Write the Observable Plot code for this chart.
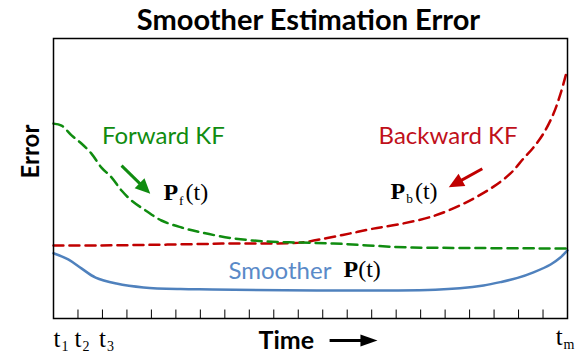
<!DOCTYPE html>
<html><head><meta charset="utf-8">
<script src="https://cdn.jsdelivr.net/npm/d3@7"></script>
<script src="https://cdn.jsdelivr.net/npm/@observablehq/plot@0.6"></script>
<style>body{margin:0;background:#fff} svg{display:block}</style>
</head><body><div id="chart"></div>
<script>
// ---- data (time in tick steps, error in arbitrary units 0..100) ----
const forwardT   = [0, 0.33, 0.74, 1.14, 1.55, 1.96, 2.37, 2.78, 3.19, 3.76, 4.41, 5.23, 6.05, 7.35, 8.74, 10.09, 11.44, 12.83, 14.46, 16.63, 21];
const forwardErr = [69.6, 68.9, 65.4, 62.5, 58.9, 53.9, 50.4, 45.7, 42.1, 38.6, 35.0, 32.5, 30.7, 28.6, 27.5, 27.1, 26.8, 26.1, 25.4, 25.2, 25.0];
const backwardT   = [0, 1.92, 3.96, 6.0, 7.35, 8.74, 10.09, 11.19, 12.13, 13.07, 14.18, 15.53, 16.63, 17.32, 17.98, 18.67, 19.2, 19.61, 20.02, 20.43, 20.72, 20.96];
const backwardErr = [26.1, 26.1, 26.3, 26.6, 26.8, 26.8, 27.1, 28.75, 30.4, 32.1, 33.75, 36.6, 40.5, 43.6, 47.1, 51.8, 57.1, 61.1, 66.1, 73.2, 80.4, 87.9];
const smootherT   = [0, 0.6, 1.14, 1.72, 2.57, 3.68, 5.19, 6.5, 10.75, 15.6, 16.6, 17.57, 18.26, 18.96, 19.61, 20.31, 20.71, 21];
const smootherErr = [23.3, 21.1, 17.9, 14.6, 12.5, 11.1, 10.5, 10.4, 10.0, 10.3, 10.8, 11.8, 13.0, 14.5, 16.5, 19.3, 21.8, 24.3];
const tickSteps = d3.range(1, 21);
const tickLabels = ["t|1|", "t|2|", "t|3|", "t|m|"];
const tickLabelSteps = [0, 1, 2, 21];

const toRows = (ts, es) => ts.map((t, i) => ({t, err: es[i]}));
const forward = toRows(forwardT, forwardErr);
const backward = toRows(backwardT, backwardErr);
const smoother = toRows(smootherT, smootherErr);
const labelRows = tickLabels.map((l, i) => ({t: tickLabelSteps[i], label: l}));

const GREEN = "#108c10", RED = "#c00000", BLUE = "#4f81bd";
const SANS = "Lato", SERIF = "Liberation Serif";
const tickLen = 8.5 / 2.8;

const chart = Plot.plot({
  width: 578, height: 354,
  marginLeft: 53, marginRight: 11, marginTop: 38, marginBottom: 36,
  x: {domain: [0, 21], axis: null},
  y: {domain: [0, 100], axis: null},
  style: {fontFamily: SANS, background: "white", overflow: "visible"},
  marks: [
    Plot.ruleX(tickSteps, {x: d => d, y1: 0, y2: tickLen, stroke: "black", strokeWidth: 1}),
    Plot.line(smoother, {x: "t", y: "err", stroke: BLUE, strokeWidth: 2.5, curve: "catmull-rom"}),
    Plot.line(backward, {x: "t", y: "err", stroke: RED, strokeWidth: 2.5, strokeDasharray: "10,6", curve: "catmull-rom"}),
    Plot.line(forward, {x: "t", y: "err", stroke: GREEN, strokeWidth: 2.5, strokeDasharray: "10,6", curve: "catmull-rom"}),
    Plot.frame({stroke: "black", strokeWidth: 1.5}),
    // title & axis labels
    Plot.text(["Smoother Estimation Error"], {frameAnchor: "top", lineAnchor: "middle", dy: -17.6, dx: -2, fontSize: 29, fontWeight: "bold", fill: "black"}),
    Plot.text(["Error"], {frameAnchor: "left", lineAnchor: "middle", dx: -22, rotate: -90, fontSize: 24, fontWeight: "bold", fill: "black"}),
    Plot.text([{x: 8.38, y: -8.2}], {x: "x", y: "y", text: () => "Time", textAnchor: "start", fontSize: 25, fontWeight: "bold", fill: "black"}),
    Plot.link([{x1: 11.28, y1: -7.86, x2: 12.95, y2: -7.86}], {x1: "x1", y1: "y1", x2: "x2", y2: "y2", stroke: "black", strokeWidth: 3, markerEnd: "arrow"}),
    // tick labels
    Plot.text(labelRows.slice(0, 1), {x: "t", y: () => -7.3, text: "label", textAnchor: "start", dx: 0, fontFamily: SERIF, fontSize: 25, fill: "black"}),
    Plot.text(labelRows.slice(1, 3), {x: "t", y: () => -7.3, text: "label", textAnchor: "start", dx: -3.5, fontFamily: SERIF, fontSize: 25, fill: "black"}),
    Plot.text(labelRows.slice(3), {x: "t", y: () => -6.5, text: "label", textAnchor: "end", dx: 7, fontFamily: SERIF, fontSize: 25, fill: "black"}),
    // annotations
    Plot.text([{x: 4.49, y: 65.0}], {x: "x", y: "y", text: () => "Forward KF", fontSize: 24, fill: GREEN}),
    Plot.text([{x: 16.12, y: 65.0}], {x: "x", y: "y", text: () => "Backward KF", fontSize: 24, fill: "#c0101a"}),
    Plot.text([{x: 7.15, y: 17.0}], {x: "x", y: "y", text: () => "Smoother", textAnchor: "start", fontSize: 24, fill: "#5a8ac8"}),
    Plot.text([{x: 4.49, y: 44.9, label: "*P|f|(t)"}, {x: 13.77, y: 45.6, label: "*P|b|(t)"}, {x: 11.85, y: 17.4, label: "*P||(t)"}],
      {x: "x", y: "y", text: "label", textAnchor: "start", fontFamily: SERIF, fontSize: 24, fill: "black"}),
    Plot.link([{x1: 2.78, y1: 54.6, x2: 3.75, y2: 46.3}], {x1: "x1", y1: "y1", x2: "x2", y2: "y2", stroke: GREEN, strokeWidth: 3, markerEnd: "arrow"}),
    Plot.link([{x1: 17.52, y1: 53.5, x2: 16.40, y2: 48.1}], {x1: "x1", y1: "y1", x2: "x2", y2: "y2", stroke: RED, strokeWidth: 3, markerEnd: "arrow"})
  ]
});
document.getElementById("chart").appendChild(chart);

// rich text: [*]main | subscript | rest   (* = bold main)
function richify(el) {
  const fs = parseFloat(el.getAttribute("font-size")) || parseFloat(getComputedStyle(el).fontSize) || 22;
  let [main, sub, rest] = el.textContent.split("|");
  const bold = main.startsWith("*");
  if (bold) main = main.slice(1);
  while (el.firstChild) el.removeChild(el.firstChild);
  const ns = "http://www.w3.org/2000/svg";
  const m = document.createElementNS(ns, "tspan");
  m.textContent = main;
  if (bold) m.setAttribute("font-weight", "bold");
  el.appendChild(m);
  const off = fs * 0.17;
  if (sub) {
    const s = document.createElementNS(ns, "tspan");
    s.textContent = sub;
    s.setAttribute("font-size", (fs * 0.56).toFixed(1));
    s.setAttribute("dy", off.toFixed(1));
    s.setAttribute("dx", "1");
    el.appendChild(s);
  }
  if (rest) {
    const r = document.createElementNS(ns, "tspan");
    r.textContent = rest;
    if (sub) { r.setAttribute("dy", (-off).toFixed(1)); r.setAttribute("dx", "2"); }
    el.appendChild(r);
  }
}
chart.querySelectorAll("text").forEach(el => {
  if (el.textContent.includes("|")) richify(el);
});

// filled triangular arrow heads
chart.querySelectorAll("marker").forEach(mk => {
  const col = mk.getAttribute("stroke") || "black";
  mk.setAttribute("fill", col);
  mk.setAttribute("stroke", "none");
  mk.setAttribute("overflow", "visible");
  const p = mk.querySelector("path");
  const big = col === "black" || col === "#000000";
  p.setAttribute("d", big ? "M-5,-3L3.5,0L-5,3Z" : "M-4,-3.5L3.5,0L-4,3.5Z");
});
</script>
</body></html>
